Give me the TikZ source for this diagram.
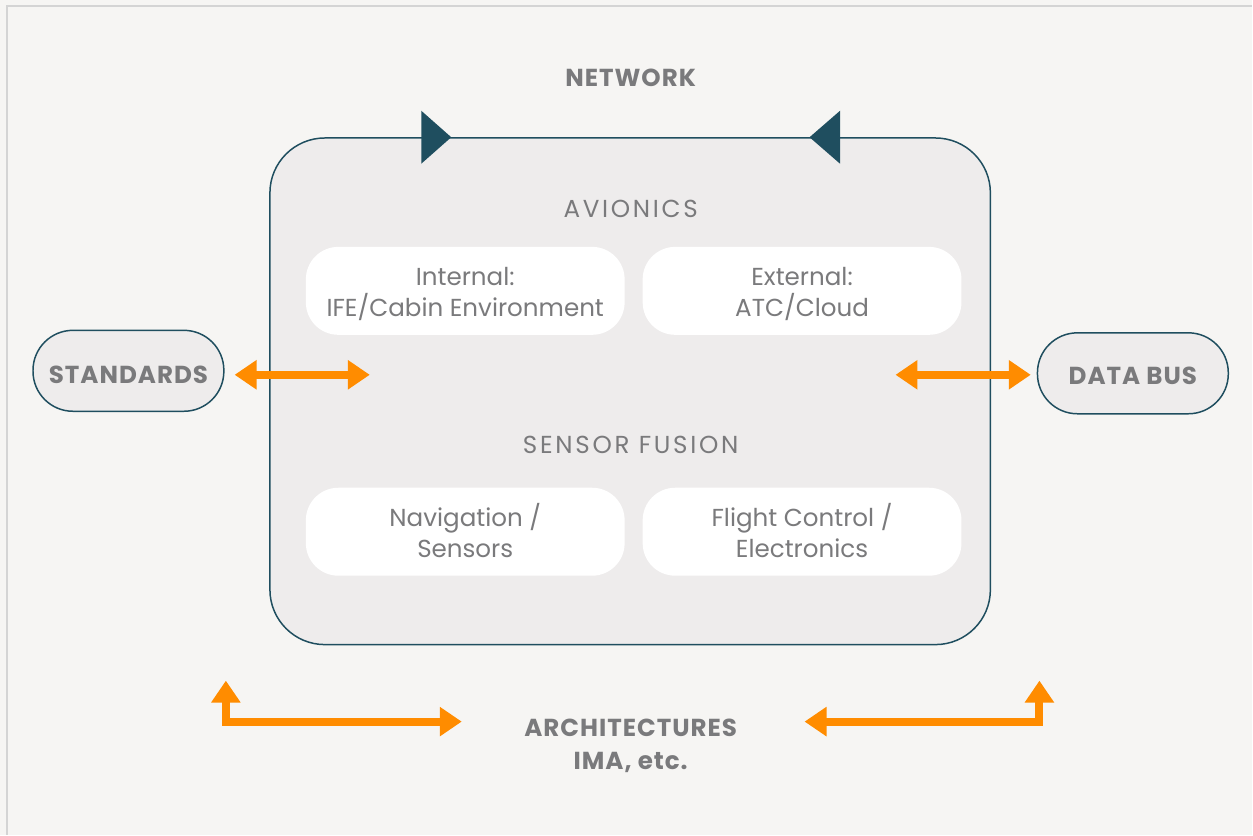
\documentclass[tikz,border=0pt]{standalone}
\usepackage{fontspec}
\setmainfont{Poppins}
\newfontfamily\spacedfont[LetterSpace=11]{Poppins}
\newfontfamily\widefont[LetterSpace=4]{Poppins}
\usetikzlibrary{arrows.meta,calc}

\definecolor{bgcol}{HTML}{F6F5F3}
\definecolor{framecol}{HTML}{D4D4D4}
\definecolor{boxfill}{HTML}{EEECEC}
\definecolor{tealline}{HTML}{1F4E5F}
\definecolor{arroworange}{HTML}{FF8C00}
\definecolor{textgray}{HTML}{7A7A7C}

% two lines in a white box, with fixed room above and below
\newcommand\boxtext[2]{\rule{0pt}{15.8pt}#1\\#2\rule[-4pt]{0pt}{0pt}}

\tikzset{mainbox/.style={draw=tealline,line width=0.85pt,fill=boxfill,rounded corners=1.1cm,
          minimum width=14.42cm,minimum height=10.14cm},
         pill/.style={draw=tealline,line width=0.85pt,fill=boxfill,rounded corners=0.8cm,
          minimum width=3.82cm,minimum height=1.62cm,text height=16pt,text depth=1.3pt,
          text=textgray,font=\fontsize{14}{16}\selectfont\widefont\bfseries},
         subbox/.style={fill=white,rounded corners=0.65cm,minimum width=6.38cm,minimum height=1.76cm,
          align=center,text=textgray,font=\fontsize{14}{17.6}\selectfont},
         header/.style={text=textgray,font=\fontsize{14}{16}\selectfont\spacedfont},
         boldlabel/.style={text=textgray,align=center,font=\fontsize{14}{18.7}\selectfont\widefont\bfseries},
         fat/.style={draw=arroworange,line width=4.5pt,
          arrows={Triangle[length=12.5pt,width=16pt]-Triangle[length=12.5pt,width=16pt]}}}

\begin{document}
\begin{tikzpicture}[x=0.02cm,y=-0.02cm]
        \fill[bgcol] (0,0) rectangle (1253,835);
        \draw[framecol,line width=0.8pt] (7,835) -- (7,6) -- (1253,6);
        \node[boldlabel] (net) at (631,78) {NETWORK};
        \node[mainbox] (box) at (630.5,391.5) {};
        \fill[tealline] ($(box.north)+(-209,-26.5)$) -- ($(box.north)+(-179,0)$) -- ($(box.north)+(-209,26.5)$) -- cycle;
        \fill[tealline] ($(box.north)+(210,-26.5)$) -- ($(box.north)+(179.5,0)$) -- ($(box.north)+(210,26.5)$) -- cycle;
        \node[header] (avi) at (631,209) {AVIONICS};
        \node[subbox] (int) at (465.5,291) {\boxtext{Internal:}{IFE/Cabin Environment}};
        \node[subbox] (ext) at (802.5,291) {\boxtext{External:}{ATC/Cloud}};
        \node[header] (sens) at (631,445) {SENSOR FUSION};
        \node[subbox] (nav) at (465.5,532) {\boxtext{Navigation /}{Sensors}};
        \node[subbox] (fc) at (802.5,532) {\boxtext{Flight Control /}{Electronics}};
        \node[pill] (std) at (128.5,371) {STANDARDS};
        \node[pill,text depth=3.3pt] (bus) at (1133.5,373.5) {DATA BUS};
        \node[boldlabel] (arch) at (631,746.5) {ARCHITECTURES\\IMA, etc.};
        % free ends of the orange arrows
        \coordinate (stdtip) at (370,375);
        \coordinate (bustip) at (896,375);
        \coordinate (archL) at (462,722);
        \coordinate (upL) at (226,681);
        \coordinate (archR) at (805,722);
        \coordinate (upR) at (1040,681);
        \draw[fat,shorten <=5.7pt] (std.east |- stdtip) -- (stdtip);
        \draw[fat,shorten >=3.4pt] (bustip) -- (bus.west |- bustip);
        \draw[fat] (upL) |- (archL);
        \draw[fat] (archR) -| (upR);
    \end{tikzpicture}
\end{document}
